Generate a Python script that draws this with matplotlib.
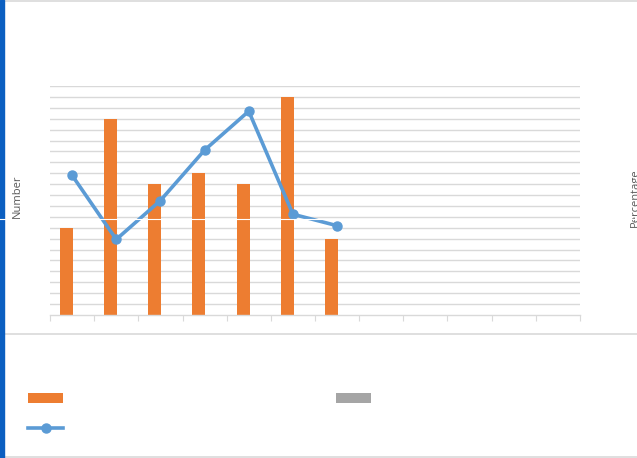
import numpy as np
import matplotlib
matplotlib.use('Agg')
import matplotlib.pyplot as plt
from matplotlib.lines import Line2D
from matplotlib.patches import Rectangle

# 데이터
categories = [f'C{i}' for i in range(1, 13)]
numbers = [8, 18, 12, 13, 12, 20, 7, 0, 0, 0, 0, 0]
numbers_2 = [0] * 12
percentages = [0.61, 0.33, 0.50, 0.72, 0.89, 0.44, 0.39]
series_names = ['', '', '']

orange = '#ED7D31'
gray = '#A5A5A5'
blue = '#5B9BD5'
grid_c = '#D9D9D9'
text_c = '#595959'

plt.rcParams['font.family'] = ['Open Sans', 'DejaVu Sans']

fig = plt.figure(figsize=(6.37, 4.58), dpi=100)
W, H = 637, 458
ax = fig.add_axes([50 / W, 1 - 315 / H, 530 / W, 229 / H])

x = np.arange(len(categories))
bw = 0.294
b1 = ax.bar(x - 0.13, numbers, width=bw, color=orange, zorder=2)
b2 = ax.bar(x - 0.13 + bw, numbers_2, width=bw, color=gray, zorder=2)

ax.set_xlim(-0.5, len(categories) - 0.5)
ax.set_ylim(0, 21)
ax.set_yticks(np.arange(1, 22))
ax.yaxis.grid(True, color=grid_c, linewidth=1.0)
ax.set_axisbelow(True)
ax.tick_params(axis='y', length=0, labelleft=False)
ax.set_xticks(np.arange(-0.5, len(categories)))
ax.tick_params(axis='x', length=4, width=0.8, color=grid_c, labelbottom=False)
for s in ['top', 'right', 'left']:
    ax.spines[s].set_visible(False)
ax.spines['bottom'].set_color(grid_c)
ax.spines['bottom'].set_linewidth(1.0)

# 보조 축 (퍼센트)
ax2 = ax.twinx()
ax2.set_ylim(0, 1)
line, = ax2.plot(x[:len(percentages)], percentages, color=blue, linewidth=2.6,
                 marker='o', markersize=6.5, zorder=3)
ax2.set_yticks([])
for s in ax2.spines.values():
    s.set_visible(False)

fig.text(17.5 / W, 1 - 196.5 / H, 'Number', rotation=90, ha='center', va='center',
         fontsize=8, color=text_c)
fig.text(635.5 / W, 1 - 197.5 / H, 'Percentage', rotation=90, ha='center', va='center',
         fontsize=8, color=text_c)

# 범례
leg = fig.legend([b1, line, b2], series_names, ncol=2, loc='upper left',
                 bbox_to_anchor=(28 / W, 1 - 392 / H), frameon=False,
                 fontsize=10, handlelength=2.52, handletextpad=0,
                 columnspacing=19.65, labelspacing=1.06, borderpad=0,
                 borderaxespad=0)

# 테두리
fig.add_artist(Rectangle((0, 0), 3.5 / W, 1, transform=fig.transFigure,
                         color='#0B5FC1', zorder=5))
fig.add_artist(Line2D([0, 1], [1 - 1 / H, 1 - 1 / H], transform=fig.transFigure,
                      color=grid_c, linewidth=1.2))
fig.add_artist(Line2D([0, 1], [1 - 334 / H, 1 - 334 / H], transform=fig.transFigure,
                      color=grid_c, linewidth=1.2))
fig.add_artist(Line2D([0, 1], [1 - 457 / H, 1 - 457 / H], transform=fig.transFigure,
                      color=grid_c, linewidth=1.2))
fig.add_artist(Line2D([0, 1], [1 - 219 / H, 1 - 219 / H], transform=fig.transFigure,
                      color='white', linewidth=0.8, zorder=10))

fig.savefig('out.png', dpi=100)
